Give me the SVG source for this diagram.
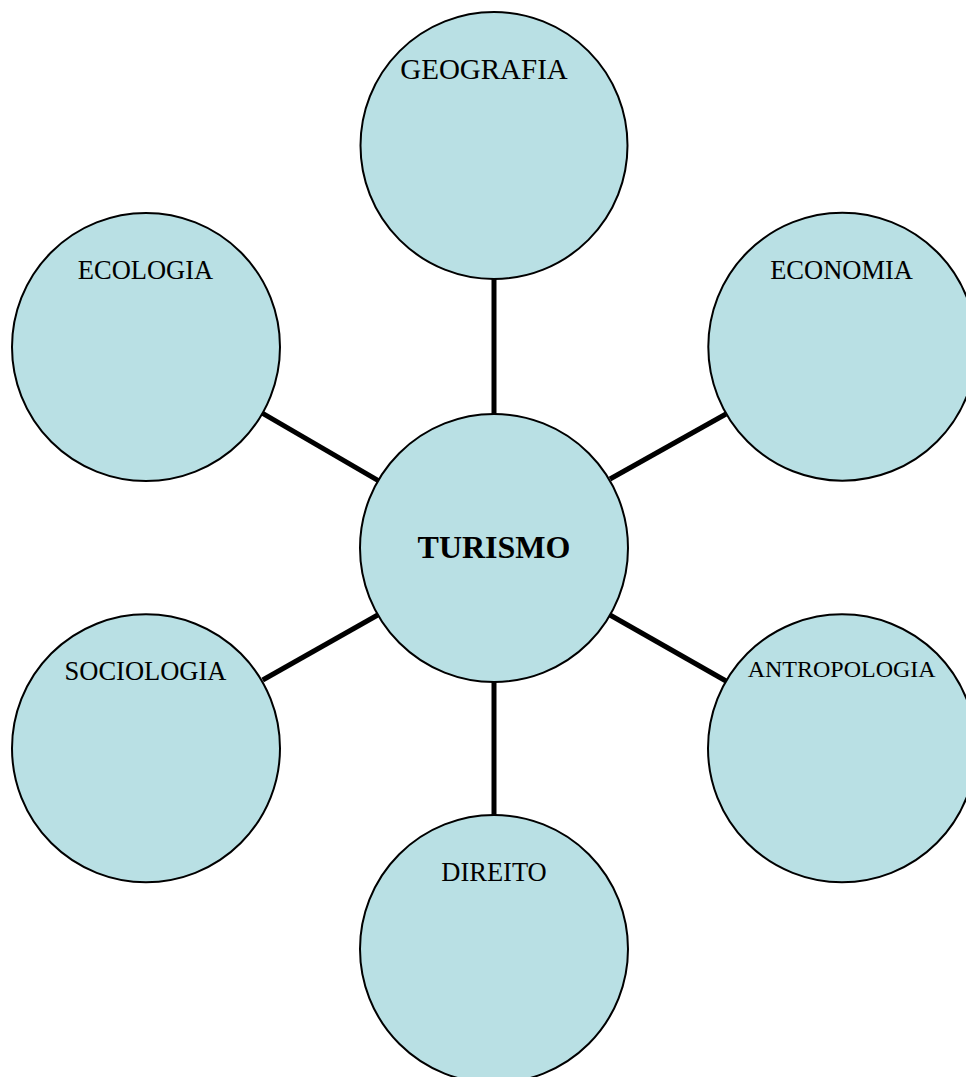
<svg xmlns="http://www.w3.org/2000/svg" width="966" height="1077" viewBox="0 0 966 1077">
<style>
.node{fill:#b9e0e4;stroke:#000;stroke-width:2}
.lbl{font-family:"Liberation Serif","Times New Roman",serif;font-size:26.5px;fill:#000;text-anchor:middle}
.conn{stroke:#000;stroke-width:5;fill:none}
</style>
<rect width="966" height="1077" fill="#fff"/>
<g id="connectors">
<line class="conn" x1="494" y1="279" x2="494" y2="414"/>
<line class="conn" x1="494" y1="682" x2="494" y2="815"/>
<line class="conn" x1="262.7" y1="413.3" x2="378.3" y2="480.7"/>
<line class="conn" x1="610" y1="479" x2="726" y2="414"/>
<line class="conn" x1="262.7" y1="680" x2="377.7" y2="615"/>
<line class="conn" x1="610" y1="615" x2="726" y2="681"/>
</g>
<g id="geografia">
<circle class="node" cx="494" cy="145.5" r="133.5"/>
<text class="lbl" x="484" y="79" style="font-size:29px">GEOGRAFIA</text>
</g>
<g id="ecologia">
<circle class="node" cx="146" cy="347" r="134"/>
<text class="lbl" x="145.5" y="279">ECOLOGIA</text>
</g>
<g id="economia">
<circle class="node" cx="842.3" cy="346.7" r="134"/>
<text class="lbl" x="841.6" y="279">ECONOMIA</text>
</g>
<g id="turismo">
<circle class="node" cx="494" cy="548" r="134"/>
<text class="lbl" x="494" y="558" style="font-size:32px;font-weight:bold">TURISMO</text>
</g>
<g id="sociologia">
<circle class="node" cx="146" cy="748.3" r="134"/>
<text class="lbl" x="145.5" y="680">SOCIOLOGIA</text>
</g>
<g id="antropologia">
<circle class="node" cx="842" cy="748.3" r="134"/>
<text class="lbl" x="841.7" y="677.3" style="font-size:24px">ANTROPOLOGIA</text>
</g>
<g id="direito">
<circle class="node" cx="494" cy="949" r="134"/>
<text class="lbl" x="494" y="881">DIREITO</text>
</g>
</svg>
